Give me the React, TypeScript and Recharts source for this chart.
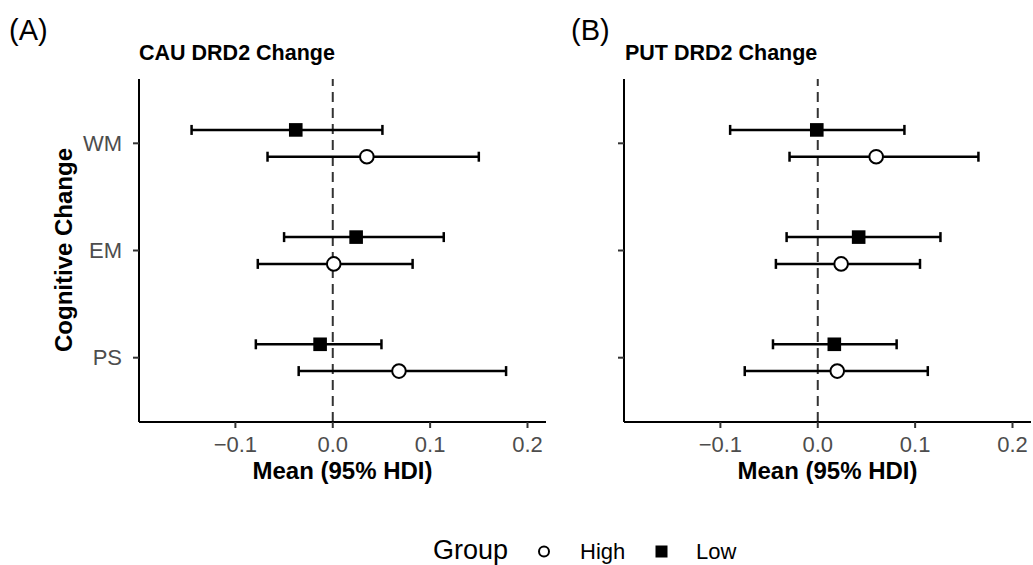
import React from 'react';
import { ScatterChart, Scatter, XAxis, YAxis, ErrorBar, ReferenceLine, Label } from 'recharts';

// cognitive domains, top to bottom
const cognitiveDomains = ['WM', 'EM', 'PS'];
const xTicks = [-0.1, 0, 0.1, 0.2];

// CAU panel
const cauLowMean = [-0.038, 0.024, -0.013];
const cauLowLower = [-0.145, -0.050, -0.079];
const cauLowUpper = [0.051, 0.114, 0.050];
const cauHighMean = [0.035, 0.001, 0.068];
const cauHighLower = [-0.067, -0.077, -0.035];
const cauHighUpper = [0.150, 0.082, 0.178];

// PUT panel
const putLowMean = [-0.001, 0.042, 0.017];
const putLowLower = [-0.090, -0.032, -0.046];
const putLowUpper = [0.089, 0.126, 0.081];
const putHighMean = [0.060, 0.024, 0.020];
const putHighLower = [-0.029, -0.043, -0.075];
const putHighUpper = [0.165, 0.105, 0.113];

const FONT = '"Liberation Sans", Arial, sans-serif';
const DODGE = 0.125;

const makeRows = (mean: number[], lower: number[], upper: number[], offset: number) =>
  cognitiveDomains.map((name, i) => ({
    name,
    x: mean[i],
    y: cognitiveDomains.length - i + offset,
    err: [mean[i] - lower[i], upper[i] - mean[i]],
  }));

const HighShape = (props: any) => (
  <circle cx={props.cx} cy={props.cy} r={6.8} fill="#fff" stroke="#000" strokeWidth={2} />
);
const LowShape = (props: any) => (
  <rect x={props.cx - 6.8} y={props.cy - 6.8} width={13.6} height={13.6} fill="#000" />
);

const fmtX = (v: number) => v.toFixed(1).replace('-', '\u2212');

interface PanelProps {
  left: number;
  width: number;
  axisWidth: number;
  showLabels: boolean;
  low: ReturnType<typeof makeRows>;
  high: ReturnType<typeof makeRows>;
}

const Panel: React.FC<PanelProps> = ({ left, width, axisWidth, showLabels, low, high }) => (
  <div style={{ position: 'absolute', left, top: 0 }}>
    <ScatterChart width={width} height={500} margin={{ top: 79, right: width - axisWidth - 407, bottom: 0, left: 0 }}>
      <ReferenceLine x={0} stroke="#333" strokeWidth={2} strokeDasharray="10 6" />
      <XAxis
        type="number"
        dataKey="x"
        domain={[-0.199, 0.219]}
        allowDataOverflow
        ticks={xTicks}
        tickFormatter={fmtX}
        height={78}
        tickSize={6}
        tickMargin={8}
        axisLine={{ stroke: '#000', strokeWidth: 2 }}
        tickLine={{ stroke: '#333', strokeWidth: 2 }}
        tick={{ fill: '#4d4d4d', fontSize: 22, fontFamily: FONT }}
      >
        <Label
          content={({ viewBox }: any) => (
            <text x={viewBox.x + viewBox.width / 2} y={479} textAnchor="middle" fontSize={24} fontWeight="bold" fontFamily={FONT} fill="#000">
              Mean (95% HDI)
            </text>
          )}
        />
      </XAxis>
      <YAxis
        type="number"
        dataKey="y"
        domain={[0.4, 3.6]}
        allowDataOverflow
        ticks={[1, 2, 3]}
        tickFormatter={(v: number) => (showLabels ? cognitiveDomains[3 - v] : '')}
        width={axisWidth}
        tickSize={6}
        tickMargin={11}
        axisLine={{ stroke: '#000', strokeWidth: 2 }}
        tickLine={{ stroke: '#333', strokeWidth: 2 }}
        tick={{ fill: '#4d4d4d', fontSize: 22, fontFamily: FONT }}
      >
        {showLabels && (
          <Label
            content={() => (
              <text x={72} y={250} transform="rotate(-90, 72, 250)" textAnchor="middle" fontSize={24} fontWeight="bold" fontFamily={FONT} fill="#000">
                Cognitive Change
              </text>
            )}
          />
        )}
      </YAxis>
      <Scatter name="High" data={high} shape={HighShape} isAnimationActive={false}>
        <ErrorBar dataKey="err" direction="x" width={5} stroke="#000" strokeWidth={2.5} isAnimationActive={false} />
      </Scatter>
      <Scatter name="Low" data={low} shape={LowShape} isAnimationActive={false}>
        <ErrorBar dataKey="err" direction="x" width={5} stroke="#000" strokeWidth={2.5} isAnimationActive={false} />
      </Scatter>
    </ScatterChart>
  </div>
);

export default function App() {
  const cauLow = makeRows(cauLowMean, cauLowLower, cauLowUpper, DODGE);
  const cauHigh = makeRows(cauHighMean, cauHighLower, cauHighUpper, -DODGE);
  const putLow = makeRows(putLowMean, putLowLower, putLowUpper, DODGE);
  const putHigh = makeRows(putHighMean, putHighLower, putHighUpper, -DODGE);

  return (
    <div style={{ position: 'absolute', left: 0, top: 0, width: 1033, height: 565, background: '#fff', fontFamily: FONT }}>
      <Panel left={0} width={560} axisWidth={139} showLabels low={cauLow} high={cauHigh} />
      <Panel left={560} width={473} axisWidth={64} showLabels={false} low={putLow} high={putHigh} />
      <svg width={1033} height={565} style={{ position: 'absolute', left: 0, top: 0, pointerEvents: 'none' }} fontFamily={FONT}>
        <text x={9} y={40} fontSize={29} fill="#000">(A)</text>
        <text x={571} y={40} fontSize={29} fill="#000">(B)</text>
        <text x={139} y={60} fontSize={21.5} fontWeight="bold" fill="#000">CAU DRD2 Change</text>
        <text x={625} y={60} fontSize={21.5} fontWeight="bold" fill="#000">PUT DRD2 Change</text>
        {/* legend */}
        <text x={433} y={559} fontSize={27} fill="#000">Group</text>
        <circle cx={544} cy={551.5} r={5} fill="#fff" stroke="#000" strokeWidth={2} />
        <text x={580} y={559} fontSize={22} fill="#000">High</text>
        <rect x={655.5} y={545.5} width={12} height={12} fill="#000" />
        <text x={696} y={559} fontSize={22} fill="#000">Low</text>
      </svg>
    </div>
  );
}
